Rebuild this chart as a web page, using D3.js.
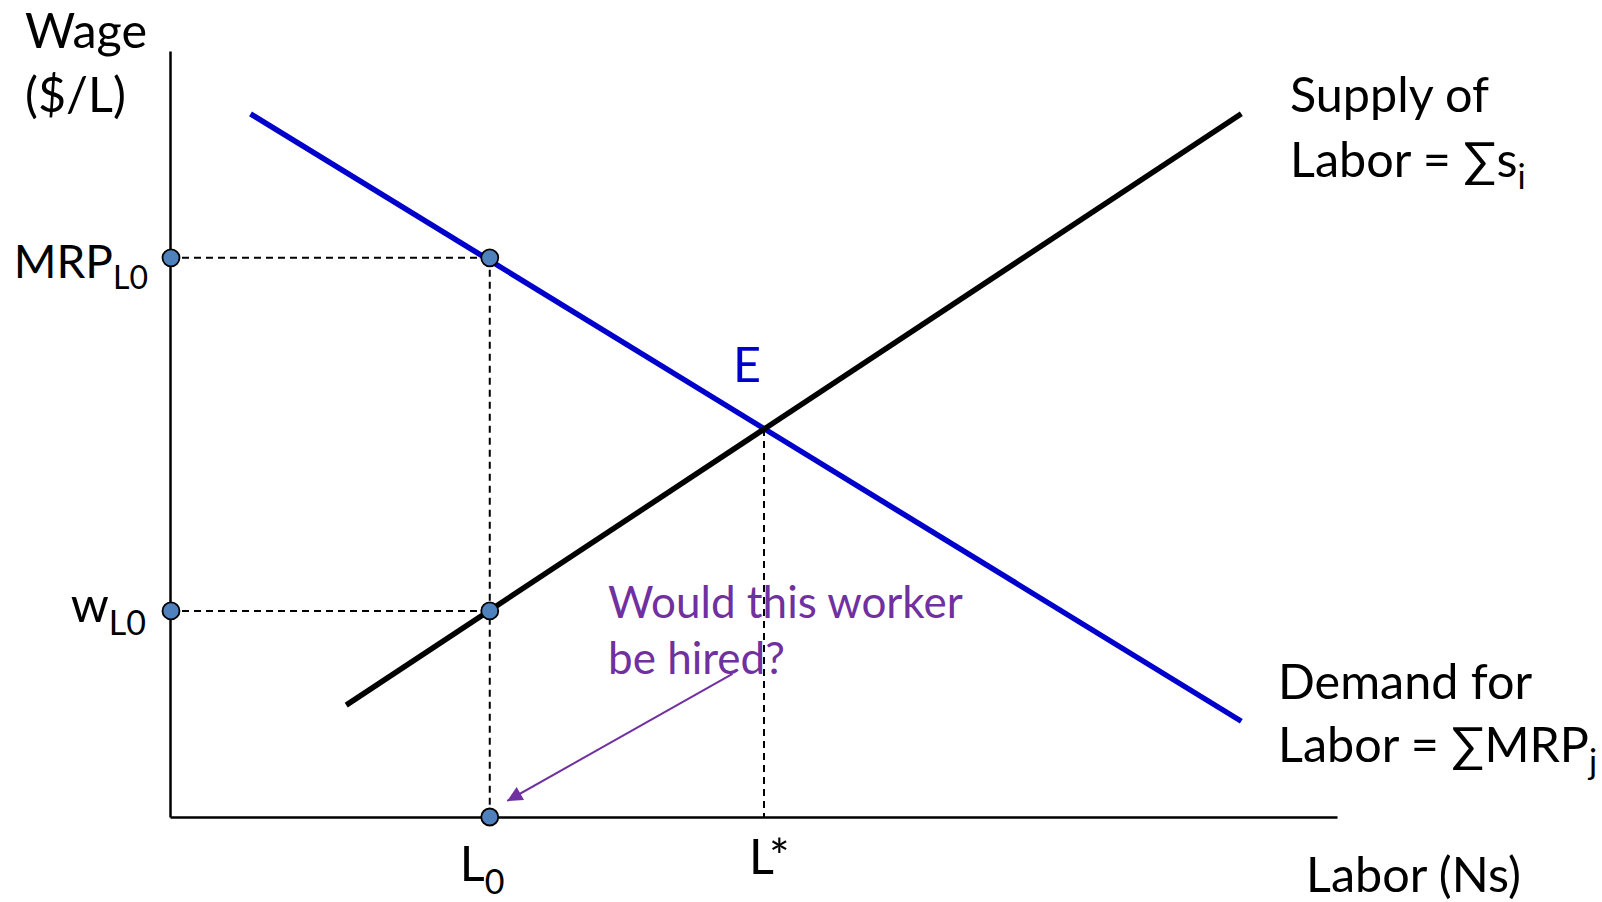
<!DOCTYPE html>
<html>
<head>
<meta charset="utf-8">
<script src="https://cdn.jsdelivr.net/npm/d3@7"></script>
<style>
  html, body { margin: 0; padding: 0; background: #fff; }
  svg text { font-family: Lato, "Open Sans", sans-serif; }
</style>
</head>
<body>
<svg id="chart" width="1602" height="902"></svg>
<script>
// ---- data (Labor units on x, Wage units on y) ----
const demandLabor = [6.9, 91.8];
const demandWage  = [91.8, 12.5];
const supplyLabor = [15.1, 91.8];
const supplyWage  = [14.6, 91.8];
const L0 = 27.4;          // labor quantity L0
const mrpL0 = 73.0;       // MRP at L0
const wL0 = 26.9;         // wage on supply at L0
const Lstar = 50.9;       // equilibrium labor
const Wstar = 50.65;      // equilibrium wage
const arrowFrom = [48.2, 18.7];
const arrowTo   = [28.9, 2.1];
const supplyLabelLines = ["Supply of", "Labor = \u2211s"];
const demandLabelLines = ["Demand for", "Labor = \u2211MRP"];
const questionLines = ["Would this worker", "be hired?"];
const yTitleLines = ["Wage", "($/L)"];
const xTitle = "Labor (Ns)";

const svg = d3.select("#chart");
const x = d3.scaleLinear().domain([0, 100]).range([170, 1337]);
const y = d3.scaleLinear().domain([0, 100]).range([817, 51]);

const BLUE = "#0000CC", PURPLE = "#7030A0", DOT = "#4F81BD";
const FS = 48.5, SUB = 34, QFS = 44;

// axes (domain lines only)
const gx = svg.append("g").attr("transform", `translate(0,${y(0)})`)
  .call(d3.axisBottom(x).tickValues([]).tickSizeOuter(0));
const gy = svg.append("g").attr("transform", `translate(${x(0)},0)`)
  .call(d3.axisLeft(y).tickValues([]).tickSizeOuter(0));
[gx, gy].forEach(g => g.select(".domain").attr("stroke", "#000").attr("stroke-width", 2.5));

// dashed guides
const dash = svg.append("g").attr("stroke", "#000").attr("stroke-width", 2)
  .attr("stroke-dasharray", "7,5").attr("fill", "none");
const guides = [
  [[0, mrpL0], [L0, mrpL0]],
  [[L0, mrpL0], [L0, 0]],
  [[0, wL0], [L0, wL0]],
  [[Lstar, Wstar], [Lstar, 0]]
];
const lineGen = d3.line().x(d => x(d[0])).y(d => y(d[1]));
guides.forEach(g => dash.append("path").attr("d", lineGen(g)));

// curves
const demand = demandLabor.map((l, i) => [l, demandWage[i]]);
const supply = supplyLabor.map((l, i) => [l, supplyWage[i]]);
svg.append("path").attr("d", lineGen(demand)).attr("stroke", BLUE)
  .attr("stroke-width", 5.5).attr("fill", "none");
svg.append("path").attr("d", lineGen(supply)).attr("stroke", "#000")
  .attr("stroke-width", 5.5).attr("fill", "none");

// arrow
svg.append("defs").append("marker").attr("id", "ah")
  .attr("viewBox", "0 0 10 10").attr("refX", 10).attr("refY", 5)
  .attr("markerUnits", "userSpaceOnUse").attr("markerWidth", 20).attr("markerHeight", 15)
  .attr("orient", "auto")
  .append("path").attr("d", "M0,0 L10,5 L0,10 Z").attr("fill", PURPLE);
svg.append("path").attr("d", lineGen([arrowFrom, arrowTo]))
  .attr("stroke", PURPLE).attr("stroke-width", 2).attr("fill", "none")
  .attr("marker-end", "url(#ah)");

// dots
const dots = [[0, mrpL0], [L0, mrpL0], [0, wL0], [L0, wL0], [L0, 0]];
svg.selectAll("circle.dot").data(dots).join("circle").attr("class", "dot")
  .attr("cx", d => x(d[0]) + (d[0] === 0 ? 1 : 0)).attr("cy", d => y(d[1]))
  .attr("r", 8.5).attr("fill", DOT).attr("stroke", "#000").attr("stroke-width", 1.8);

// text helpers
function label(px, py, main, sub, dy, anchor, color, fs, sfs) {
  const t = svg.append("text").attr("x", px).attr("y", py)
    .attr("font-size", fs || FS).attr("fill", color || "#000")
    .attr("text-anchor", anchor || "start");
  t.append("tspan").text(main);
  if (sub) t.append("tspan").attr("dy", dy).attr("font-size", sfs || SUB).text(sub);
  return t;
}

// y axis title
label(25, 48, yTitleLines[0]);
label(25, 112, yTitleLines[1]);
// tick-like labels
label(148, y(mrpL0) + 20, "MRP", "L0", 11, "end", null, 46, 32);
label(146, y(wL0) + 11, "w", "L0", 13, "end");
label(x(L0) - 30, y(0) + 64, "L", "0", 13);
label(x(Lstar) - 15, y(0) + 57, "L*");
label(x(Lstar) - 31, y(Wstar) - 47, "E", null, 0, "start", BLUE);
// curve labels
label(1290, 112, supplyLabelLines[0]);
label(1290, 177, supplyLabelLines[1], "i", 12);
label(1278, 699, demandLabelLines[0]);
label(1278, 762, demandLabelLines[1], "j", 12);
label(1306, 892, xTitle);
// question
questionLines.forEach((s, i) => label(608, 618 + i * 56, s, null, 0, "start", PURPLE, QFS));
</script>
</body>
</html>
